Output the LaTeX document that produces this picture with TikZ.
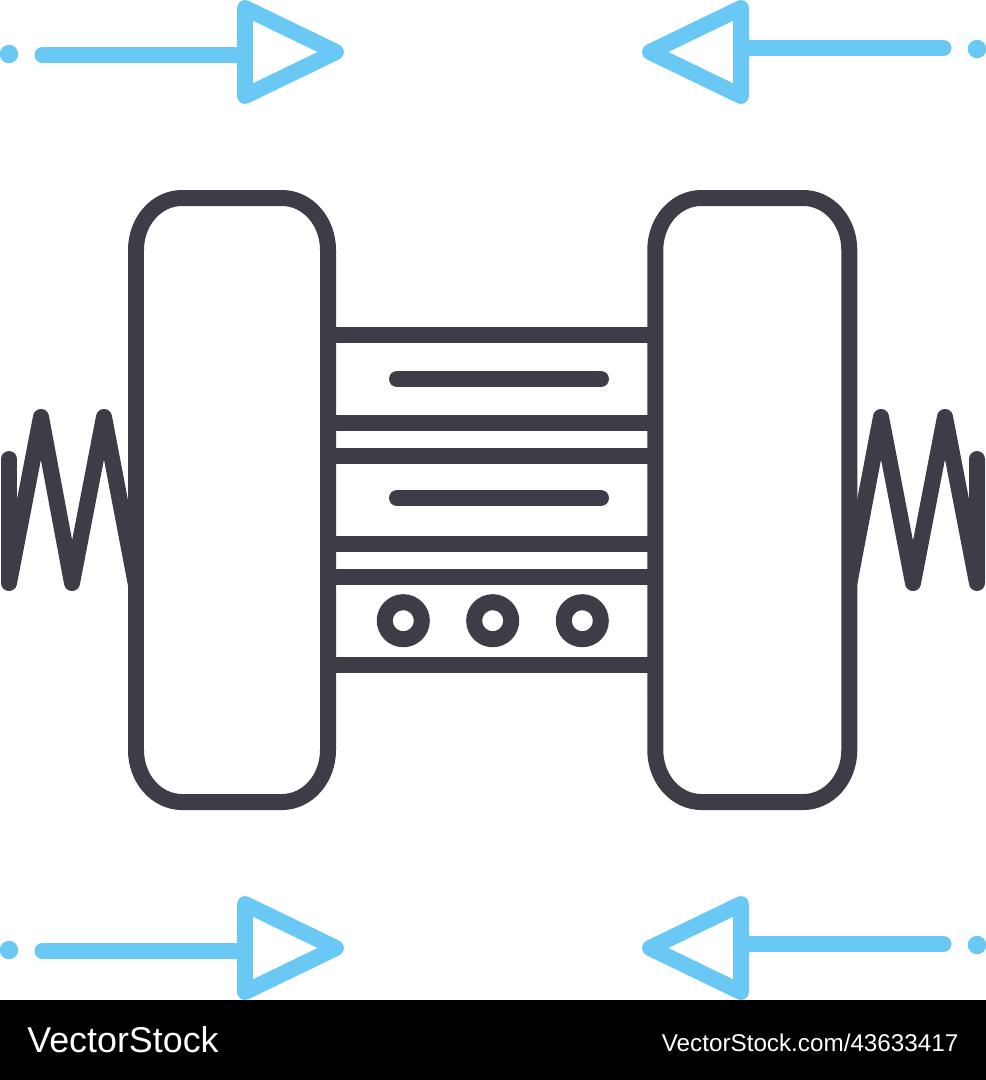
\documentclass[tikz,border=0pt]{standalone}
\usepackage{fontspec}
\setmainfont{Liberation Sans}
\definecolor{darkline}{HTML}{3E3C47}
\definecolor{blueline}{HTML}{6AC8F5}
\begin{document}
\begin{tikzpicture}[x=0.02cm,y=-0.02cm,
    stroke/.style={line width=0.32cm,line join=round,line cap=round},
    rail/.style={draw=darkline,line width=0.32cm},
    ring/.style={circle,draw=darkline,fill=white,line width=0.32cm,minimum size=0.74cm,inner sep=0pt},
    dot/.style={circle,fill=blueline,minimum size=0.37cm,inner sep=0pt},
    brand/.style={text=white,anchor=base west,inner sep=0pt}]
    \useasboundingbox (0,0) rectangle (986,1080);

    \draw[stroke,darkline] (9,459) -- (9,583) -- (41,417) -- (72,583) -- (104,417) -- (136,585);
    \draw[stroke,darkline] (849,585) -- (881,417) -- (913,583) -- (945,417) -- (977,583) -- (977,459);

    \foreach \x/\w in {136/192,655.3/194}
        \draw[stroke,darkline,fill=white] (\x,250) .. controls (\x,221) and (\x+20.6,198) .. (\x+46,198)
            -- (\x+\w-46,198) .. controls (\x+\w-20.6,198) and (\x+\w,221) .. (\x+\w,250)
            -- (\x+\w,750) .. controls (\x+\w,779) and (\x+\w-20.6,802) .. (\x+\w-46,802)
            -- (\x+46,802) .. controls (\x+20.6,802) and (\x,779) .. (\x,750) -- cycle;

    \coordinate (railL) at (328,0);
    \coordinate (railR) at (655.3,0);
    \foreach \y in {335,423,456,544,577,665}
        \draw[rail] (railL |- 0,\y) -- (railR |- 0,\y);
    \draw[stroke,darkline] (397,379) -- (601,379);
    \draw[stroke,darkline] (397,498) -- (601,498);
    \node[ring] (ringA) at (403.3,620.7) {};
    \node[ring] (ringB) at (492.7,620.7) {};
    \node[ring] (ringC) at (582.3,620.7) {};

    \foreach \n/\t/\l/\d in {A/52/55/54,B/948/951/950} {
        \node[dot] (dotL\n) at (9,\d) {};
        \coordinate (tailL\n) at (42.5,\l);
        \coordinate (headL\n) at (245,\l);
        \draw[stroke,blueline] (tailL\n) -- (headL\n);
        \draw[stroke,blueline] (245,\t-44) -- (245,\t+44) -- (336,\t) -- cycle;
    }
    \foreach \n/\t/\l/\d in {A/52/48/49,B/948/944/945} {
        \node[dot] (dotR\n) at (977,\d) {};
        \coordinate (tailR\n) at (943.5,\l);
        \coordinate (headR\n) at (741,\l);
        \draw[stroke,blueline] (tailR\n) -- (headR\n);
        \draw[stroke,blueline] (741,\t-44) -- (741,\t+44) -- (650,\t) -- cycle;
    }

    \fill[black] (0,1000) rectangle (986,1080);
    \node[brand,font=\fontsize{20.4}{24}\selectfont] (logo) at (27,1052) {VectorStock};
    \node[brand,font=\fontsize{13.8}{16}\selectfont] (stockid) at (661.5,1051.5) {VectorStock.com/43633417};
\end{tikzpicture}
\end{document}
